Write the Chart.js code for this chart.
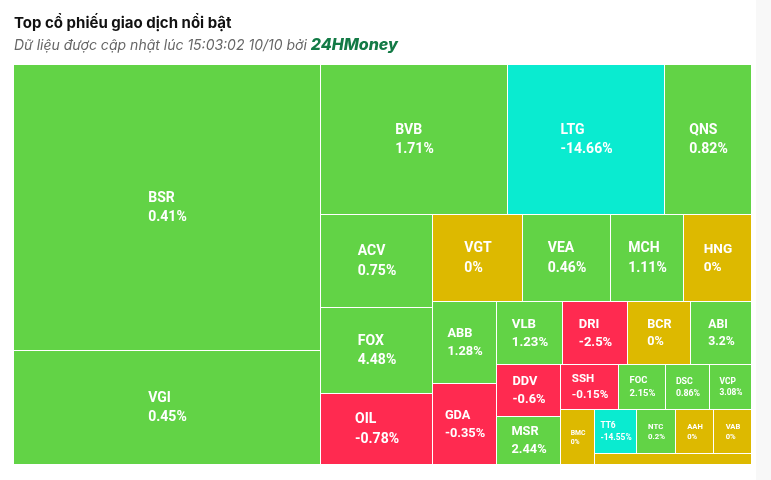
<!DOCTYPE html>
<html>
<head>
<meta charset="utf-8">
<script src="https://cdn.jsdelivr.net/npm/chart.js@4/dist/chart.umd.min.js"></script>
<style>
  html, body { margin: 0; padding: 0; background: #fff; }
  #wrap { position: relative; width: 771px; height: 480px; overflow: hidden; }
  #wrap canvas { position: absolute; left: 0; top: 0; }
  .title { position: absolute; left: 14px; top: 13px; font: 700 15px Inter, sans-serif; color: #111; line-height: 20px; white-space: nowrap; }
  .sub { position: absolute; left: 14px; top: 35px; font: italic 400 14px Inter, sans-serif; color: #666; line-height: 18px; white-space: nowrap; }
  .sub b { font-size: 16px; font-weight: 800; color: #137a45; }
  .scroll { position: absolute; right: 0; top: 0; width: 15px; height: 480px; background: #f8f8f8; }
</style>
</head>
<body>
<div id="wrap">
  <canvas id="map" width="771" height="480"></canvas>
  <div class="title">Top cổ phiếu giao dịch nổi bật</div>
  <div class="sub">Dữ liệu được cập nhật lúc 15:03:02 10/10 bởi <b>24HMoney</b></div>
  <div class="scroll"></div>
</div>
<script>
// stocks in the order the site lists them (biggest trading value first)
const tickers = ['BSR', 'VGI', 'BVB', 'LTG', 'QNS', 'ACV', 'FOX', 'OIL', 'VGT', 'VEA',
  'MCH', 'HNG', 'ABB', 'GDA', 'VLB', 'DRI', 'BCR', 'ABI', 'DDV', 'MSR',
  'SSH', 'FOC', 'DSC', 'VCP', 'BMC', 'TT6', 'NTC', 'AAH', 'VAB', ''];
// trading value (relative)
const tradeValues = [876, 350, 279, 235, 130, 104, 96, 79, 77.5, 76,
  63, 58.5, 52.3, 51.3, 41.8, 41.2, 39.9, 38.4, 33.1, 30.7,
  25.7, 21.3, 19.7, 18.6, 18.7, 18.2, 17.4, 16.7, 16.6, 17.2];
// price change, %
const changes = [0.41, 0.45, 1.71, -14.66, 0.82, 0.75, 4.48, -0.78, 0, 0.46,
  1.11, 0, 1.28, -0.35, 1.23, -2.5, 0, 3.2, -0.6, 2.44,
  -0.15, 2.15, 0.86, 3.08, 0, -14.55, 0.2, 0, 0, 0];

const COLORS = { up: '#62d346', flat: '#ddb900', down: '#ff2a50', floor: '#0aebd0' };

function cellColor(pct) {
  if (pct <= -14) return COLORS.floor;
  if (pct < 0) return COLORS.down;
  if (pct === 0) return COLORS.flat;
  return COLORS.up;
}

// squarified layout that alternates column / row, like the site's treemap
function layoutTreemap(vals, W, H) {
  const total = vals.reduce((a, b) => a + b, 0);
  const areas = vals.map(v => v / total * W * H);
  const out = [];
  let x0 = 0, y0 = 0, w = W, h = H, dir = 0;
  let row = [];

  function ratioOf(item, items) {
    const sum = items.reduce((a, b) => a + areas[b], 0);
    if (dir === 0) { const cw = sum / h, ih = areas[item] / cw; return Math.max(cw / ih, ih / cw); }
    const rh = sum / w, iw = areas[item] / rh;
    return Math.max(rh / iw, iw / rh);
  }
  function flush() {
    const sum = row.reduce((a, b) => a + areas[b], 0);
    if (dir === 0) {
      const cw = sum / h; let yy = y0;
      row.forEach(i => { const ih = areas[i] / cw; out[i] = { x: x0, y: yy, w: cw, h: ih }; yy += ih; });
      x0 += cw; w -= cw;
    } else {
      const rh = sum / w; let xx = x0;
      row.forEach(i => { const iw = areas[i] / rh; out[i] = { x: xx, y: y0, w: iw, h: rh }; xx += iw; });
      y0 += rh; h -= rh;
    }
    dir = 1 - dir;
    row = [];
  }
  areas.forEach((a, i) => {
    if (row.length) {
      const last = row[row.length - 1];
      const lR = ratioOf(last, row), nR = ratioOf(last, row.concat(i));
      if (nR > lR) flush();
    }
    row.push(i);
  });
  if (row.length) flush();
  return out;
}

const treemapPlugin = {
  id: 'treemapCells',
  afterDatasetsDraw(chart) {
    const { ctx, chartArea: area, scales: { x, y } } = chart;
    const aspect = area.height / area.width;
    const cells = layoutTreemap(tradeValues, 1, aspect);
    ctx.save();
    cells.forEach((c, i) => {
      const l = Math.round(x.getPixelForValue(c.x));
      const r = Math.round(x.getPixelForValue(c.x + c.w));
      const t = Math.round(y.getPixelForValue(c.y / aspect));
      const b = Math.round(y.getPixelForValue((c.y + c.h) / aspect));
      ctx.fillStyle = cellColor(changes[i]);
      ctx.fillRect(l, t, r - l - 1, b - t - 1);

      const w = r - l, h = b - t;
      const fs = Math.min(14, w / 5);
      if (!tickers[i] || fs * 2.5 > h) return;
      const lines = [tickers[i], changes[i] + '%'];
      ctx.font = '700 ' + fs.toFixed(1) + 'px Roboto, sans-serif';
      const bw = Math.max(...lines.map(s => ctx.measureText(s).width));
      const lh = fs * 1.38;
      const cx = (l + r) / 2, cy = (t + b) / 2;
      ctx.fillStyle = '#fff';
      ctx.textBaseline = 'middle';
      ctx.textAlign = 'left';
      ctx.fillText(lines[0], cx - bw / 2, cy - lh / 2);
      ctx.fillText(lines[1], cx - bw / 2, cy + lh / 2);
    });
    ctx.restore();
  }
};

new Chart(document.getElementById('map'), {
  type: 'scatter',
  data: { datasets: [{ data: [] }] },
  options: {
    responsive: false,
    animation: false,
    devicePixelRatio: 1,
    layout: { padding: { left: 14, top: 65, right: 19, bottom: 15 } },
    scales: {
      x: { type: 'linear', min: 0, max: 1, display: false },
      y: { type: 'linear', min: 0, max: 1, reverse: true, display: false }
    },
    plugins: { legend: { display: false }, tooltip: { enabled: false }, title: { display: false } }
  },
  plugins: [treemapPlugin]
});
</script>
</body>
</html>
